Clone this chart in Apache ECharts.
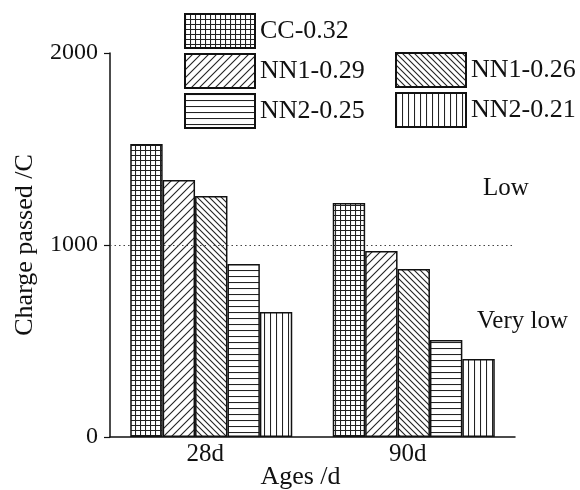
<!DOCTYPE html>
<html><head><meta charset="utf-8">
<script src="https://cdn.jsdelivr.net/npm/echarts@6/dist/echarts.min.js"></script>
<style>html,body{margin:0;padding:0;background:#fff}#c{width:580px;height:490px}</style>
</head><body><div id="c"></div>
<script>
var categories = ['28d', '90d'];
var seriesNames = ['CC-0.32', 'NN1-0.29', 'NN1-0.26', 'NN2-0.25', 'NN2-0.21'];
var ccValues = [1526, 1219];
var nn1_029Values = [1338, 969];
var nn1_026Values = [1255, 875];
var nn2_025Values = [901, 505];
var nn2_021Values = [651, 406];
var yTicks = [0, 1000, 2000];
var thresholdValue = 1000;
var annotations = ['Low', 'Very low'];

var FONT = '"Liberation Serif", "DejaVu Serif", serif';

function makePattern(kind) {
  var s = {grid: 5, fwd: 8, back: 6, horiz: 6, vert: 6}[kind];
  var cv = document.createElement('canvas');
  cv.width = s; cv.height = s;
  var ctx = cv.getContext('2d');
  ctx.fillStyle = '#ffffff';
  ctx.fillRect(0, 0, s, s);
  ctx.strokeStyle = '#222222';
  ctx.lineWidth = 1.1;
  ctx.beginPath();
  if (kind === 'grid') {
    ctx.moveTo(0.5, 0); ctx.lineTo(0.5, s);
    ctx.moveTo(0, 0.5); ctx.lineTo(s, 0.5);
  } else if (kind === 'fwd') {
    ctx.moveTo(0, s); ctx.lineTo(s, 0);
    ctx.moveTo(-1, 1); ctx.lineTo(1, -1);
    ctx.moveTo(s - 1, s + 1); ctx.lineTo(s + 1, s - 1);
  } else if (kind === 'back') {
    ctx.moveTo(0, 0); ctx.lineTo(s, s);
    ctx.moveTo(-1, s - 1); ctx.lineTo(1, s + 1);
    ctx.moveTo(s - 1, -1); ctx.lineTo(s + 1, 1);
  } else if (kind === 'horiz') {
    ctx.moveTo(0, 0.5); ctx.lineTo(s, 0.5);
  } else if (kind === 'vert') {
    ctx.moveTo(0.5, 0); ctx.lineTo(0.5, s);
  }
  ctx.stroke();
  return {image: cv, repeat: 'repeat'};
}

var patterns = [makePattern('grid'), makePattern('fwd'), makePattern('back'), makePattern('horiz'), makePattern('vert')];
var allValues = [ccValues, nn1_029Values, nn1_026Values, nn2_025Values, nn2_021Values];

var series = seriesNames.map(function (name, i) {
  var s = {
    name: name,
    type: 'bar',
    data: allValues[i],
    barGap: '0%',
    barCategoryGap: '20%',
    itemStyle: {color: patterns[i], borderColor: '#111', borderWidth: 1.5},
    emphasis: {disabled: true}
  };
  if (i === 0) {
    s.markLine = {
      silent: true,
      symbol: 'none',
      label: {show: false},
      lineStyle: {type: [1.5, 3], color: '#444', width: 1.2},
      data: [{yAxis: thresholdValue}]
    };
  }
  return s;
});

var legendCommon = {
  orient: 'vertical',
  itemWidth: 70, itemHeight: 34, itemGap: 4,
  icon: 'rect',
  itemStyle: {borderColor: '#111', borderWidth: 2},
  textStyle: {fontFamily: FONT, fontSize: 26, color: '#111'},
  selectedMode: false
};

var chart = echarts.init(document.getElementById('c'), null, {renderer: 'canvas'});
chart.setOption({
  animation: false,
  backgroundColor: '#fff',
  grid: {left: 110, right: 65, top: 53, bottom: 53, outerBoundsMode: 'none', containLabel: false},
  legend: [
    Object.assign({data: [seriesNames[0], seriesNames[1], seriesNames[3]], left: 179, top: 8}, legendCommon),
    Object.assign({data: [seriesNames[2], seriesNames[4]], left: 390, top: 47}, legendCommon)
  ],
  xAxis: {
    type: 'category',
    data: categories,
    name: 'Ages /d',
    nameLocation: 'middle',
    nameGap: 27,
    nameMoveOverlap: false,
    nameTextStyle: {fontFamily: FONT, fontSize: 26, color: '#111', padding: [0, 24, 0, 0]},
    axisLine: {lineStyle: {color: '#111', width: 1.5}},
    axisTick: {show: false},
    axisLabel: {fontFamily: FONT, fontSize: 25, color: '#111', margin: 5, padding: [0, 12, 0, 0]},
    splitLine: {show: false}
  },
  yAxis: {
    type: 'value',
    min: yTicks[0], max: yTicks[yTicks.length - 1], interval: yTicks[1] - yTicks[0],
    name: 'Charge passed /C',
    nameLocation: 'middle',
    nameGap: 72,
    nameMoveOverlap: false,
    nameTextStyle: {fontFamily: FONT, fontSize: 26, color: '#111'},
    axisLine: {show: true, lineStyle: {color: '#111', width: 1.5}},
    axisTick: {show: true, length: 6, lineStyle: {color: '#111', width: 1.2}},
    axisLabel: {fontFamily: FONT, fontSize: 24, color: '#111', margin: 12, formatter: function (v) { return String(v); }},
    splitLine: {show: false}
  },
  graphic: [
    {type: 'text', left: 483, top: 176, style: {text: annotations[0], font: '25px ' + FONT, fill: '#111'}},
    {type: 'text', left: 477, top: 309, style: {text: annotations[1], font: '25px ' + FONT, fill: '#111'}}
  ],
  series: series
});
</script>
</body></html>
